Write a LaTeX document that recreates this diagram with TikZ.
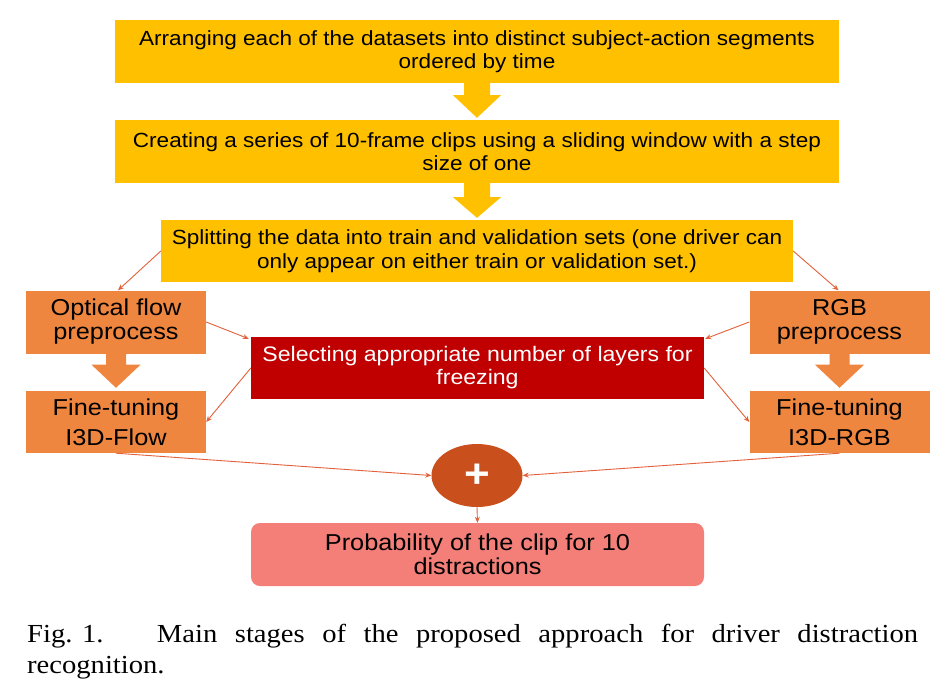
\documentclass[tikz,border=0pt]{standalone}
\usepackage{fontspec}
\setmainfont[FakeStretch=1.1]{Liberation Serif}
\newfontfamily\arialf[FakeStretch=1.1]{Liberation Sans}
\usetikzlibrary{calc,arrows.meta,shapes.geometric}
\definecolor{yel}{HTML}{FFC000}
\definecolor{org}{HTML}{EE8640}
\definecolor{dred}{HTML}{C00000}
\definecolor{plusc}{HTML}{C9501C}
\definecolor{probc}{HTML}{F47F79}
\definecolor{arrc}{HTML}{E2603A}
\newcommand\myblockarrow[6]{%
  \fill[#6] ($(#1)+(-#3,0)$) -- ($(#1)+(-#3,#5)$) -- ($(#1)+(-#4,#5)$) -- (#2)
    -- ($(#1)+(#4,#5)$) -- ($(#1)+(#3,#5)$) -- ($(#1)+(#3,0)$) -- cycle;}
\begin{document}
\begin{tikzpicture}[x=1pt,y=-1pt,
  ybox/.style={fill=yel,inner sep=0,minimum height=63,align=center,font=\arialf\fontsize{20.5}{23.5}\selectfont},
  obox/.style={fill=org,inner sep=0,minimum width=180,minimum height=63,align=center},
  conn/.style={draw=arrc,line width=0.9,-{Stealth[length=6,width=5]}}]
\useasboundingbox (0,0) rectangle (948,686);
\node[ybox,minimum width=724] (b1) at (477,51.5) {Arranging each of the datasets into distinct subject-action segments\\ordered by time};
\node[ybox,minimum width=724] (b2) at (477,151.5) {Creating a series of 10-frame clips using a sliding window with a step\\size of one};
\node[ybox,minimum width=632,minimum height=62] (b3) at (477,251) {Splitting the data into train and validation sets (one driver can\\only appear on either train or validation set.)};
\node[obox,font=\arialf\fontsize{23}{24}\selectfont] (ofp) at (116,322) {Optical flow\\preprocess};
\node[obox,font=\arialf\fontsize{23}{24}\selectfont] (rgbp) at (839.5,322) {RGB\\preprocess};
\node[obox,minimum height=62,font=\arialf\fontsize{23}{30}\selectfont] (flow) at (116,422) {Fine-tuning\\I3D-Flow};
\node[obox,minimum height=62,font=\arialf\fontsize{23}{30}\selectfont] (rgbf) at (839.5,422) {Fine-tuning\\I3D-RGB};
\node[fill=dred,text=white,inner sep=0,minimum width=453,minimum height=62,align=center,font=\arialf\fontsize{21}{23}\selectfont] (red) at (477.5,368) {Selecting appropriate number of layers for\\freezing};
\node[ellipse,fill=plusc,text=white,inner sep=0,minimum width=91,minimum height=63,font=\arialf\bfseries\fontsize{40}{40}\selectfont] (plus) at (477,475.5) {+};
\node[fill=probc,rounded corners=9,inner sep=0,minimum width=453,minimum height=63,align=center,font=\arialf\fontsize{23}{24}\selectfont] (prob) at (477.5,554.5) {Probability of the clip for 10\\distractions};
\myblockarrow{b1.south}{$(b2.north)+(0,-2)$}{13}{24}{12}{yel}
\myblockarrow{b2.south}{$(b3.north)+(0,-2)$}{13}{24}{14}{yel}
\myblockarrow{ofp.south}{$(flow.north)+(0,-3)$}{10}{24.5}{11}{org}
\myblockarrow{rgbp.south}{$(rgbf.north)+(0,-3)$}{10}{24.5}{11}{org}
\draw[conn] (b3.west) -- ([xshift=2]ofp.north);
\draw[conn] (b3.east) -- ([xshift=-1]rgbp.north);
\draw[conn] (ofp.east) -- ([xshift=-2,yshift=-2]red.north west);
\draw[conn] (rgbp.west) -- ([xshift=1,yshift=-2]red.north east);
\draw[conn] (red.west) -- (flow.east);
\draw[conn] (red.east) -- (rgbf.west);
\draw[conn] (flow.south) -- (plus.west);
\draw[conn] (rgbf.south) -- (plus.east);
\draw[conn] (plus.south) -- (prob.north);
\node[anchor=north west,inner sep=0,text width=891,align=justify,font=\fontsize{26}{31}\selectfont] (cap) at (27,624)
  {\mbox{Fig. 1.}\hspace{36pt} Main stages of the proposed approach for driver distraction\linebreak recognition.};
\end{tikzpicture}
\end{document}
